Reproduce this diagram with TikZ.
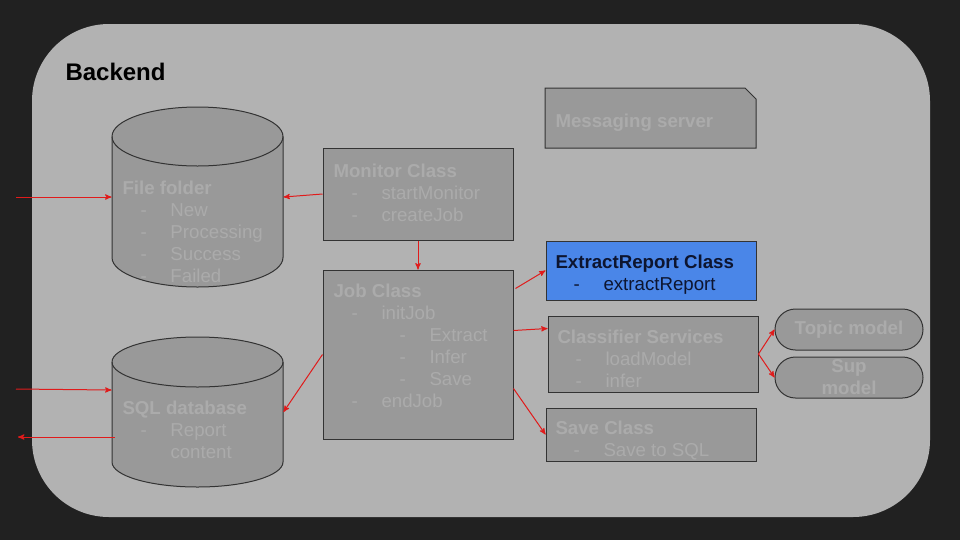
\documentclass[tikz,border=0pt]{standalone}
\usepackage{fontspec}
\setmainfont{Liberation Sans}
\usetikzlibrary{arrows,positioning,calc,shapes.misc}
\definecolor{bgdark}{HTML}{212121}
\definecolor{panel}{HTML}{B2B2B2}
\definecolor{boxgrey}{HTML}{999999}
\definecolor{faint}{HTML}{ABABAB}
\definecolor{edgegrey}{HTML}{333333}
\definecolor{linkred}{HTML}{E01B1B}
\definecolor{hiblue}{HTML}{4A86E8}
\definecolor{navy}{HTML}{0D1530}
\newcommand{\ditem}[1]{\hspace*{13.5pt}\makebox[22.5pt][l]{-}#1}
\newcommand{\dditem}[1]{\hspace*{49.5pt}\makebox[22.5pt][l]{-}#1}
\newcommand{\firstline}{\rule{0pt}{11pt}}

\begin{document}
\begin{tikzpicture}[x=0.75pt, y=-0.75pt, >=stealth', line width=0.75pt]
\tikzstyle{every node}=[font=\fontsize{14}{16.5}\selectfont]
\tikzstyle{cls}=[rectangle, draw=edgegrey, fill=boxgrey, inner sep=0pt]
\tikzstyle{hold}=[rectangle, inner sep=0pt]
\tikzstyle{drum}=[draw=edgegrey, fill=boxgrey]
\tikzstyle{model}=[rounded rectangle, draw=edgegrey, fill=boxgrey, inner sep=0pt, align=center, text=faint, font=\fontsize{14}{16.5}\selectfont\bfseries]
\tikzstyle{txt}=[anchor=north west, align=left, inner sep=0pt, text=faint]
\tikzstyle{link}=[->, draw=linkred, line width=0.75pt]

\fill[bgdark] (0,0) rectangle (960,540);
\fill[panel, rounded corners=57.75pt] (32,24) rectangle (930,517);
\node[anchor=base west, inner sep=0pt, font=\fontsize{18}{21}\selectfont\bfseries] (backend) at (65,80) {Backend};

% data stores
\node[hold, minimum width=128.25pt, minimum height=135pt] (files) at (197.5,197) {};
\node[hold, minimum width=128.25pt, minimum height=112.5pt] (sqldb) at (197.5,412) {};
\path[drum] (112,136.5) -- (112,257.5) arc[start angle=180, end angle=360, x radius=64.125pt, y radius=22.125pt]
   -- (283,136.5) arc[start angle=0, end angle=180, x radius=64.125pt, y radius=22.125pt] -- cycle;
\draw[edgegrey] (112,136.5) arc[start angle=180, end angle=360, x radius=64.125pt, y radius=22.125pt];
\path[drum] (112,362) -- (112,462) arc[start angle=180, end angle=360, x radius=64.125pt, y radius=18.75pt]
   -- (283,362) arc[start angle=0, end angle=180, x radius=64.125pt, y radius=18.75pt] -- cycle;
\draw[edgegrey] (112,362) arc[start angle=180, end angle=360, x radius=64.125pt, y radius=18.75pt];

% classes
\node[cls, minimum width=142.5pt, minimum height=69pt] (monitor) at (418,194) {};
\node[cls, minimum width=142.5pt, minimum height=126.75pt, below=21.75pt of monitor] (job) {};
\path[drum] (545,88) -- (745,88) -- (756,99) -- (756,148) -- (545,148) -- cycle;
\node[cls, fill=hiblue, minimum width=157.5pt, minimum height=44.25pt] (extract) at (651,270.5) {};
\node[cls, minimum width=157.5pt, minimum height=57pt] (classifier) at (653,354) {};
\node[cls, minimum width=157.5pt, minimum height=39.75pt] (save) at (651,434.5) {};
\node[model, minimum width=111pt, minimum height=30.75pt] (topic) at (849,329.5) {Topic model};
\node[model, minimum width=111pt, minimum height=30.75pt] (sup) at (849,377.5) {Sup\\model};

% texts
\node[txt] (fileslbl) at (122,179.3) {\firstline\textbf{File folder}\\\ditem{New}\\\ditem{Processing}\\\ditem{Success}\\\ditem{Failed}};
\node[txt] (sqllbl) at (122,399.3) {\firstline\textbf{SQL database}\\\ditem{Report}\\\hspace*{36pt}content};
\node[txt] (monitorlbl) at (333,162.3) {\firstline\textbf{Monitor Class}\\\ditem{startMonitor}\\\ditem{createJob}};
\node[txt] (joblbl) at (333,282.3) {\firstline\textbf{Job Class}\\\ditem{initJob}\\\dditem{Extract}\\\dditem{Infer}\\\dditem{Save}\\\ditem{endJob}};
\node[txt, anchor=base west] (msglbl) at (555,127) {\textbf{Messaging server}};
\node[txt, text=navy] (extractlbl) at (555,253.3) {\firstline\textbf{ExtractReport Class}\\\ditem{extractReport}};
\node[txt] (classifierlbl) at (557,328.3) {\firstline\textbf{Classifier Services}\\\ditem{loadModel}\\\ditem{infer}};
\node[txt] (savelbl) at (555,419.3) {\firstline\textbf{Save Class}\\\ditem{Save to SQL}};

% connectors
\coordinate (filesin) at (16,197);
\coordinate (sqlin) at (16,389);
\coordinate (sqlout) at (18,437);

\path (filesin) edge[link] (files.west);
\path (monitor.west) edge[link] (files.east);
\path (monitor.south) edge[link] (job.north);
\path (job.west) edge[link] (sqldb.east);
\path (sqlin) edge[link] ($(sqldb.west)+(0,-22)$);
\path ($(sqldb.west)+(3,25)$) edge[link] (sqlout);
\path ($(job.north east)+(2,19)$) edge[link] (extract.west);
\path ($(job.north east)+(0,61)$) edge[link] ($(classifier.north west)+(0,13)$);
\path ($(job.north east)+(0,119)$) edge[link] (save.west);
\path (classifier.east) edge[link] (topic.west);
\path (classifier.east) edge[link] (sup.west);
\end{tikzpicture}
\end{document}
